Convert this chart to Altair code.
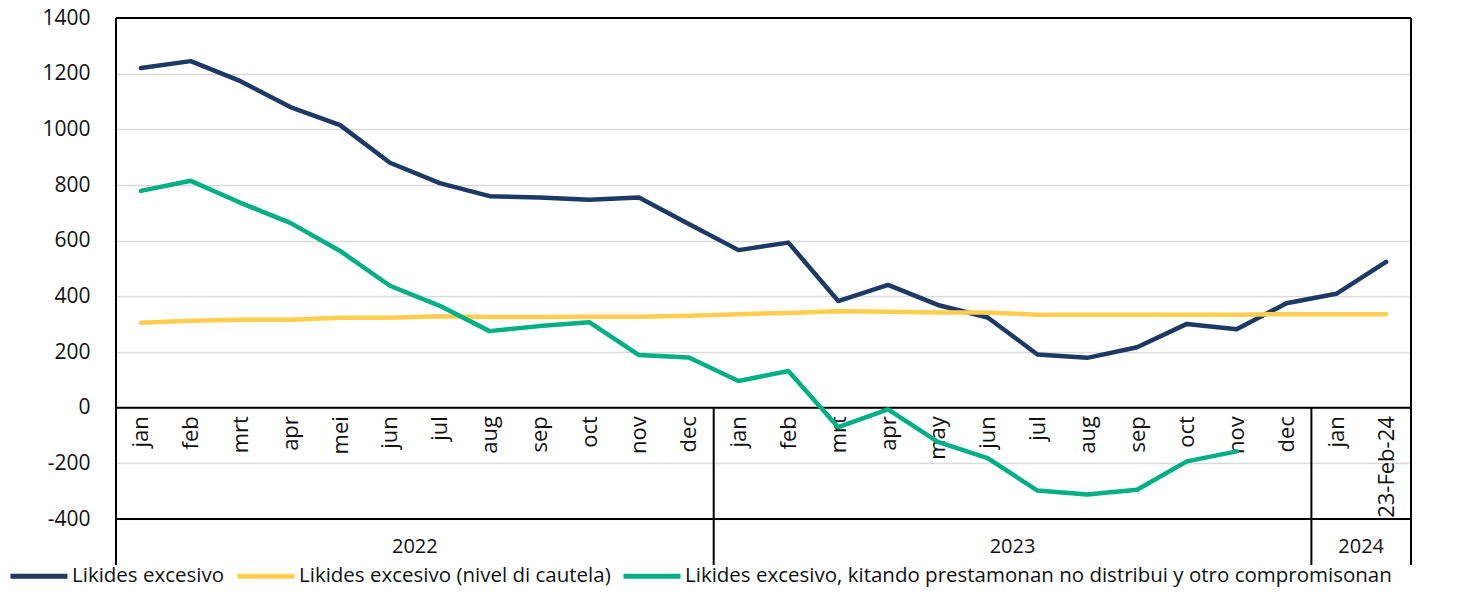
import altair as alt
import pandas as pd

# ---- data ----
years = ["2022", "2023", "2024"]
months_2022 = ["jan", "feb", "mrt", "apr", "mei", "jun", "jul", "aug", "sep", "oct", "nov", "dec"]
months_2023 = ["jan", "feb", "mrt", "apr", "may", "jun", "jul", "aug", "sep", "oct", "nov", "dec"]
months_2024 = ["jan", "23-Feb-24"]

series_names = [
    "Likides excesivo",
    "Likides excesivo (nivel di cautela)",
    "Likides excesivo, kitando prestamonan no distribui y otro compromisonan",
]

excess = [1220, 1245, 1173, 1080, 1015, 880, 807, 760, 755, 747, 755, 660,
          566, 593, 383, 441, 369, 324, 191, 179, 217, 301, 282, 375,
          409, 524]
caution = [305, 312, 316, 316, 323, 323, 328, 326, 326, 327, 327, 330,
           336, 340, 346, 345, 342, 342, 334, 334, 334, 334, 334, 336,
           336, 336]
excess_net = [779, 815, 736, 664, 563, 438, 366, 275, 293, 307, 189, 180,
              96, 132, -70, -6, -123, -181, -298, -312, -295, -193, -157]

colors = ["#1d3a64", "#ffcd50", "#00b084"]

# ---- tables built from the lists ----
labels = months_2022 + months_2023 + months_2024
groups = [months_2022, months_2023, months_2024]
n = len(labels)

rows = []
for name, vals in zip(series_names, [excess, caution, excess_net]):
    for i, v in enumerate(vals):
        rows.append({"idx": i, "cat": labels[i], "series": name, "value": v})
df = pd.DataFrame(rows)

year_rows = []
sep_rows = []
start = 0
for y, g in zip(years, groups):
    year_rows.append({"year": y, "pos": start + (len(g) - 1) / 2})
    start += len(g)
    if start < n:
        sep_rows.append({"pos": start - 0.5, "y0": 0})
year_df = pd.DataFrame(year_rows)
sep_df = pd.DataFrame(sep_rows)
edge_df = pd.DataFrame({"pos": [-0.5, n - 0.5], "ytop": [1400, 1400]})
hline_df = pd.DataFrame({"yv": [1400, 0, -400]})

W, H = 1295, 501
FONT = "Open Sans"
label_arr = "[" + ",".join("'" + l + "'" for l in labels) + "]"

xscale = alt.Scale(domain=[-0.5, n - 0.5], nice=False, zero=False)
yscale = alt.Scale(domain=[-400, 1400], nice=False, zero=False)

lines = alt.Chart(df).mark_line(strokeWidth=4.5, strokeCap="round", strokeJoin="round").encode(
    x=alt.X("idx:Q", scale=xscale,
            axis=alt.Axis(values=list(range(n)), labelExpr=label_arr + "[datum.value]",
                          orient="bottom", offset=-H * 400 / 1800, labelAngle=270,
                          labelAlign="right", labelBaseline="middle", labelPadding=8,
                          ticks=False, domain=False, grid=False, title=None,
                          labelFont=FONT, labelFontSize=22, labelColor="#111111",
                          labelOverlap=False, labelBound=False, labelFlush=False)),
    y=alt.Y("value:Q", scale=yscale,
            axis=alt.Axis(values=list(range(-400, 1401, 200)), grid=True, gridColor="#d9d9d9",
                          gridWidth=1.5, domain=False, ticks=False, title=None,
                          labelExpr="'' + datum.value",
                          labelFont=FONT, labelFontSize=21, labelColor="#111111",
                          labelPadding=26)),
    color=alt.Color("series:N", sort=series_names,
                    scale=alt.Scale(domain=series_names, range=colors),
                    legend=alt.Legend(orient="none", legendX=-108, legendY=527,
                                      direction="horizontal", title=None, padding=0,
                                      symbolType="stroke", symbolSize=3249,
                                      symbolStrokeWidth=5, labelFont=FONT,
                                      labelFontSize=20.5, labelColor="#111111",
                                      labelLimit=0, labelOffset=2, columnPadding=2,
                                      columns=3)),
    order=alt.Order("idx:Q"),
)

hlines = alt.Chart(hline_df).mark_rule(color="black", strokeWidth=2).encode(
    y=alt.Y("yv:Q", scale=yscale)
)

edges = alt.Chart(edge_df).mark_rule(color="black", strokeWidth=2).encode(
    x=alt.X("pos:Q", scale=xscale),
    y=alt.Y("ytop:Q", scale=yscale),
    y2=alt.value(H + 46),
)

sep_rules = alt.Chart(sep_df).mark_rule(color="black", strokeWidth=2).encode(
    x=alt.X("pos:Q", scale=xscale),
    y=alt.Y("y0:Q", scale=yscale),
    y2=alt.value(H + 46),
)

year_text = alt.Chart(year_df).mark_text(font=FONT, fontSize=20, color="#111111",
                                         baseline="middle", align="center").encode(
    x=alt.X("pos:Q", scale=xscale),
    y=alt.value(H + 28),
    text="year:N",
)

chart = alt.layer(hlines, edges, sep_rules, lines, year_text).properties(
    width=W, height=H,
    autosize=alt.AutoSizeParams(type="none"),
    padding={"left": 108, "top": 10, "right": 39, "bottom": 68},
    background="white",
).configure_view(stroke=None)

chart.save("out.html", embed_options={"renderer": "svg", "actions": False})
